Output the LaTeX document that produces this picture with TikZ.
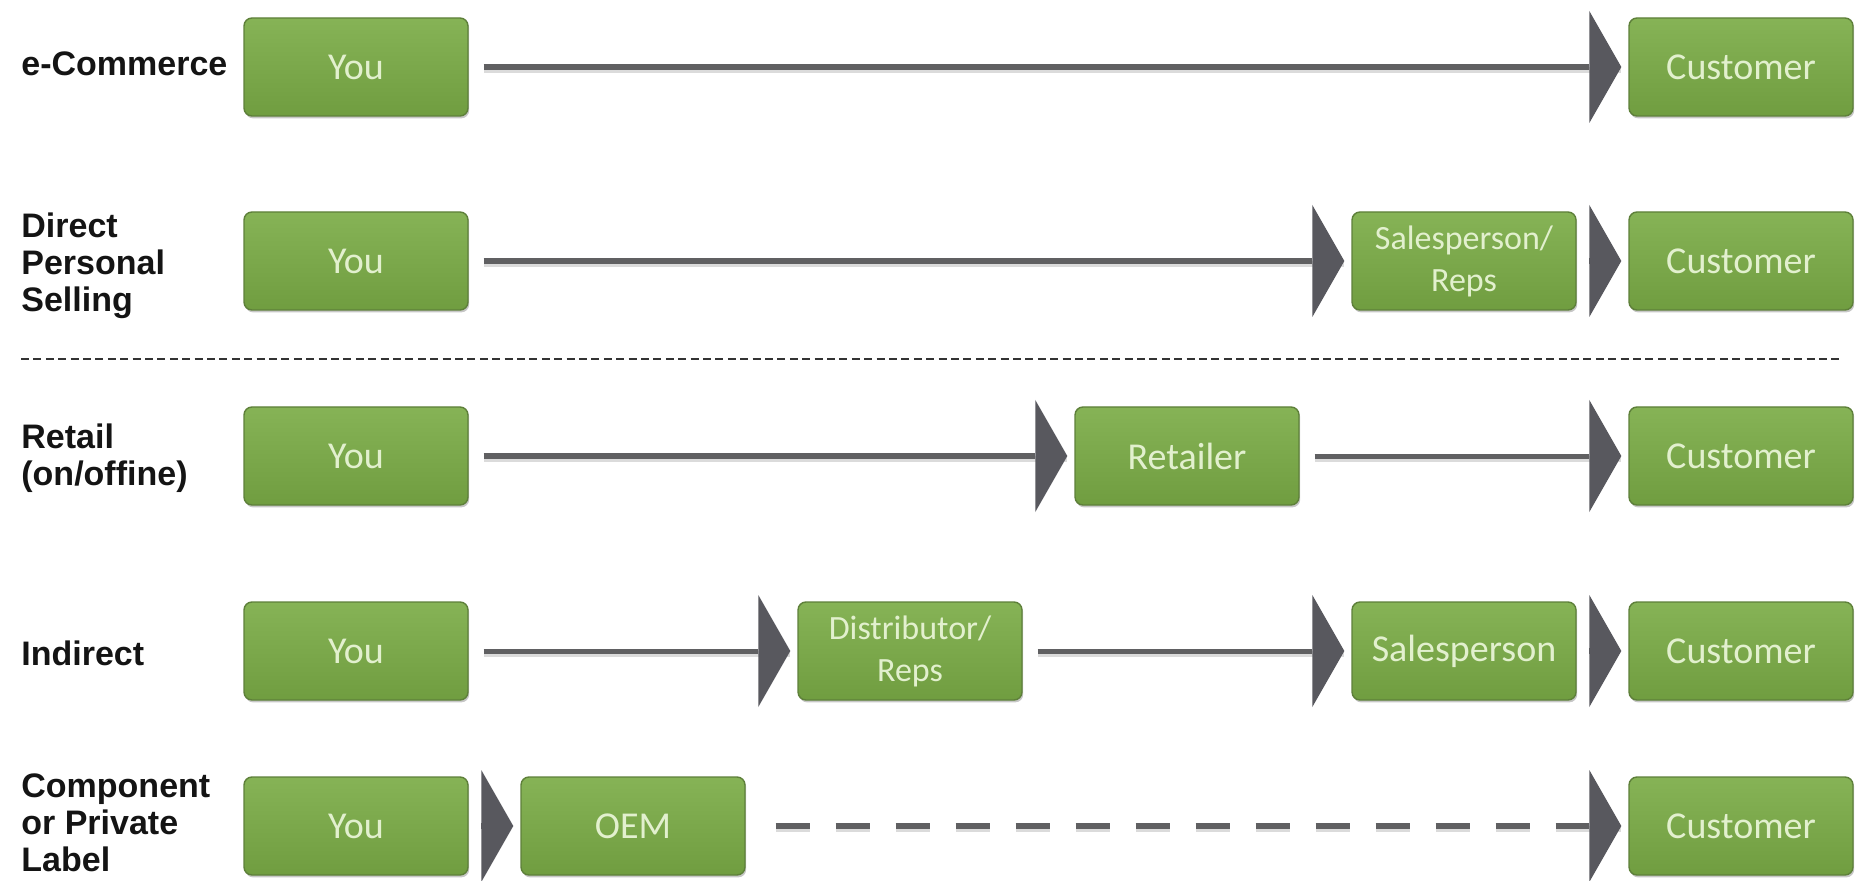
\documentclass[tikz,border=0pt]{standalone}
\usepackage{fontspec}
\setmainfont{Liberation Sans}
\newfontfamily\boxfont{Carlito}
\usetikzlibrary{arrows.meta,positioning,shadows}
\definecolor{chanGreen}{RGB}{122,169,74}
\definecolor{chanGreenTop}{RGB}{134,179,86}
\definecolor{chanGreenLow}{RGB}{112,157,64}
\definecolor{chanGreenDark}{RGB}{94,128,58}
\definecolor{chanText}{RGB}{226,240,206}
\definecolor{flowGray}{RGB}{96,96,98}
\definecolor{tipGray}{RGB}{88,88,94}
\tikzset{
  chbox/.style={rectangle, rounded corners=4pt, draw=chanGreenDark, line width=0.7pt,
                top color=chanGreenTop, middle color=chanGreen, bottom color=chanGreenLow,
                minimum width=112pt, minimum height=49pt, inner sep=0pt,
                text=chanText, font=\boxfont\fontsize{19}{21}\selectfont,
                drop shadow={shadow xshift=0.6pt, shadow yshift=-1.2pt,
                             fill=black, opacity=0.22}},
  chboxtwo/.style={chbox, align=center, font=\boxfont\fontsize{17}{21}\selectfont},
  rowlabel/.style={anchor=west, align=left, inner sep=0pt, text=black!92,
                   font=\bfseries\fontsize{17}{18.5}\selectfont},
  flowbase/.style={line width=3.3pt, flowGray, shorten <=7.5pt, shorten >=3.5pt,
                   -{Triangle[length=16pt, width=56pt, line width=0pt, color=tipGray]}},
  flowshade/.style={preaction={draw, black!14, -, line width=3pt, #1,
                               transform canvas={yshift=-1.3pt}}},
  flowshade/.default={solid},
  flow/.style={flowbase, flowshade},
  flowthin/.style={flow, line width=2.5pt},
  hop/.style={flowbase, shorten <=6.5pt},
  flowdash/.style={flowbase, shorten <=15pt, dash pattern=on 17pt off 13pt,
                   flowshade={dash pattern=on 17pt off 13pt}},
  divider/.style={line width=1.4pt, black!80, dash pattern=on 4pt off 2.2pt},
}

\begin{document}
\begin{tikzpicture}[x=0.5pt, y=-0.5pt]
  \useasboundingbox (0,0) rectangle (1871,881);

  % ---- e-Commerce ----------------------------------------------------------
  \node[rowlabel] (lab1) at (21,64) {e-Commerce};
  \node[chbox] (you1)  at (356,67)  {You};
  \node[chbox] (cust1) at (1741,67) {Customer};
  \draw[flow] (you1) -- (cust1);

  % ---- direct personal selling ---------------------------------------------
  \node[rowlabel] (lab2) at (21,266) {Direct\\Personal\\Selling};
  \node[chbox]    (you2)   at (356,261)  {You};
  \node[chboxtwo] (sales2) at (1464,261) {Salesperson/\\Reps};
  \node[chbox]    (cust2)  at (1741,261) {Customer};
  \draw[flow] (you2) -- (sales2);
  \draw[hop]  (sales2) -- (cust2);

  \coordinate (divL) at (21,359);
  \coordinate (divR) at (1843,359);
  \draw[divider] (divL) -- (divR);

  % ---- retail --------------------------------------------------------------
  \node[rowlabel] (lab3) at (21,458) {Retail\\(on/offine)};
  \node[chbox] (you3)   at (356,456)  {You};
  \node[chbox] (retl3)  at (1187,456) {Retailer};
  \node[chbox] (cust3)  at (1741,456) {Customer};
  \draw[flow]     (you3) -- (retl3);
  \draw[flowthin] (retl3) -- (cust3);

  % ---- indirect ------------------------------------------------------------
  \node[rowlabel] (lab4) at (21,653) {Indirect};
  \node[chbox]    (you4)   at (356,651)  {You};
  \node[chboxtwo] (dist4)  at (910,651)  {Distributor/\\Reps};
  \node[chbox]    (sales4) at (1464,651) {Salesperson};
  \node[chbox]    (cust4)  at (1741,651) {Customer};
  \draw[flowthin] (you4) -- (dist4);
  \draw[flowthin] (dist4) -- (sales4);
  \draw[hop]      (sales4) -- (cust4);

  % ---- component / private label -------------------------------------------
  \node[rowlabel] (lab5) at (21,823) {Component\\or Private\\Label};
  \node[chbox] (you5)  at (356,826)  {You};
  \node[chbox] (oem5)  at (633,826)  {OEM};
  \node[chbox] (cust5) at (1741,826) {Customer};
  \draw[hop]      (you5) -- (oem5);
  \draw[flowdash] (oem5) -- (cust5);
\end{tikzpicture}
\end{document}
